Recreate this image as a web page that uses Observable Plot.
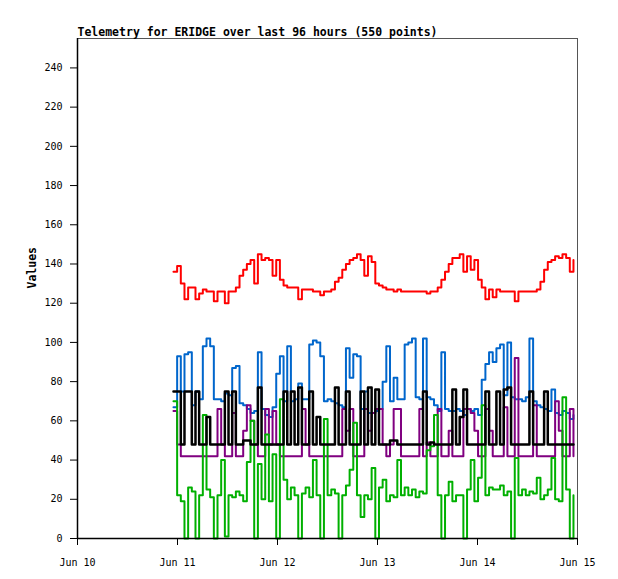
<!DOCTYPE html>
<html>
<head>
<meta charset="utf-8">
<script src="https://cdn.jsdelivr.net/npm/d3@7"></script>
<script src="https://cdn.jsdelivr.net/npm/@observablehq/plot@0.6"></script>
<style>
  html, body { margin: 0; padding: 0; background: #fff; }
</style>
</head>
<body>
<div id="chart"></div>
<script>
const title = "Telemetry for ERIDGE over last 96 hours (550 points)";
const yLabel = "Values";
const xTickDates = ["2024-06-10", "2024-06-11", "2024-06-12", "2024-06-13", "2024-06-14", "2024-06-15"];
const yTicks = [0, 20, 40, 60, 80, 100, 120, 140, 160, 180, 200, 220, 240];
const startTime = "2024-06-10T23:02:00Z";
const spanHours = 96;

const redValues = [136,139,130,122,128,128,122,125,127,126,126,121,126,126,120,126,126,128,134,137,
  140,142,130,145,142,143,142,134,142,132,129,128,128,128,122,127,127,127,126,126,
  124,126,126,127,131,133,137,140,142,143,145,142,134,144,141,130,129,128,127,127,
  126,127,126,126,126,126,126,126,126,125,126,126,128,132,136,140,143,143,145,136,
  144,137,142,132,128,122,127,123,127,126,126,126,126,121,126,126,126,126,126,127,
  131,137,141,142,144,143,145,143,136,142];

const blueValues = [67,93,75,94,95,68,75,71,98,102,98,71,71,70,74,73,87,88,69,68,
  66,64,65,95,66,63,62,67,84,93,70,98,70,71,79,71,71,99,101,100,
  93,70,71,70,69,68,67,97,82,94,93,66,75,64,64,65,66,80,98,70,
  82,71,71,99,100,102,72,71,102,72,71,68,65,95,66,65,65,66,65,63,
  66,65,66,63,81,89,95,90,97,99,73,100,72,71,71,70,72,102,70,68,
  67,66,65,76,64,63,65,64,61,63];

const purpleValues = [65,48,42,42,42,42,42,42,42,42,42,42,66,48,42,42,64,42,42,55,
  68,60,48,42,42,66,48,65,48,42,42,42,42,42,42,66,48,42,42,42,
  42,42,42,42,42,42,66,55,66,42,42,42,66,55,64,66,66,48,42,48,
  66,66,42,42,42,42,42,66,42,49,42,42,66,42,42,55,42,42,42,66,
  66,64,55,42,42,66,55,42,42,42,67,42,42,92,42,42,42,42,68,42,
  42,42,42,42,70,55,42,42,66,42];

const greenValues = [70,22,19,0,26,24,0,22,63,25,21,0,22,40,1,22,21,24,22,19,
  39,60,0,38,20,53,19,43,0,71,30,20,26,22,0,23,26,21,40,22,
  0,61,22,25,23,0,22,27,35,59,22,11,22,20,36,0,26,30,19,22,
  21,40,22,26,22,25,21,24,23,45,47,63,22,0,22,29,19,22,22,0,
  25,40,19,31,68,22,26,25,25,27,22,24,0,41,22,25,22,24,23,31,
  20,22,25,41,20,19,72,25,0,22];

const blackValues = [75,75,48,75,75,48,75,48,48,62,48,48,48,48,75,48,75,48,48,50,
  50,48,48,77,48,48,48,48,48,48,75,48,75,48,77,48,48,75,48,62,
  48,48,48,48,77,48,48,75,48,48,48,75,48,77,48,76,48,48,48,50,
  50,48,48,48,48,48,48,48,75,48,49,48,48,48,48,48,76,48,62,76,
  48,48,48,48,48,75,48,48,75,48,76,77,48,48,48,48,48,75,48,48,
  48,75,48,48,48,48,48,48,48,48];

const seriesList = [
  {name: "red", color: "#ff0000", values: redValues, width: 2},
  {name: "blue", color: "#0066cc", values: blueValues, width: 2},
  {name: "purple", color: "#800080", values: purpleValues, width: 2},
  {name: "green", color: "#00b000", values: greenValues, width: 2},
  {name: "black", color: "#000000", values: blackValues, width: 2.5}
];

const t0 = new Date(startTime).getTime();
const n = redValues.length;
const stepMs = spanHours * 3600 * 1000 / (n - 1);
const times = d3.range(n).map(i => new Date(t0 + i * stepMs));

const xDomain = [new Date(xTickDates[0] + "T00:00:00Z"), new Date(xTickDates[xTickDates.length - 1] + "T00:00:00Z")];
const xTicks = xTickDates.map(d => new Date(d + "T00:00:00Z"));

const lineMarks = seriesList.map(s =>
  Plot.line(s.values.map((v, i) => ({t: times[i], v})), {
    x: "t", y: "v", stroke: s.color, strokeWidth: s.width, curve: "step-after"
  })
);

const chart = Plot.plot({
  width: 618,
  height: 579,
  marginLeft: 77,
  marginRight: 41,
  marginTop: 38,
  marginBottom: 41,
  style: {fontFamily: "'DejaVu Sans Mono', monospace", fontSize: "10px", background: "#fff", color: "#000"},
  x: {type: "utc", domain: xDomain},
  y: {domain: [0, 255]},
  marks: [
    Plot.frame({stroke: "#555"}),
    ...lineMarks,
    Plot.ruleY([0], {stroke: "#000", strokeWidth: 1.5}),
    Plot.ruleX([xDomain[0]], {stroke: "#000", strokeWidth: 1.5}),
    Plot.axisX({ticks: xTicks, tickSize: 7, tickPadding: 13, tickFormat: d3.utcFormat("%b %d"), label: null, fontSize: 10}),
    Plot.axisY({ticks: yTicks, tickSize: 7, tickPadding: 8, label: null, fontSize: 10}),
    Plot.text([title], {frameAnchor: "top-left", dy: -3, lineAnchor: "bottom", textAnchor: "start", fontWeight: "bold", fontSize: 11.5}),
    Plot.text([yLabel], {frameAnchor: "left", dx: -45, rotate: -90, fontWeight: "bold", fontSize: 11.5})
  ]
});
document.getElementById("chart").appendChild(chart);
</script>
</body>
</html>
